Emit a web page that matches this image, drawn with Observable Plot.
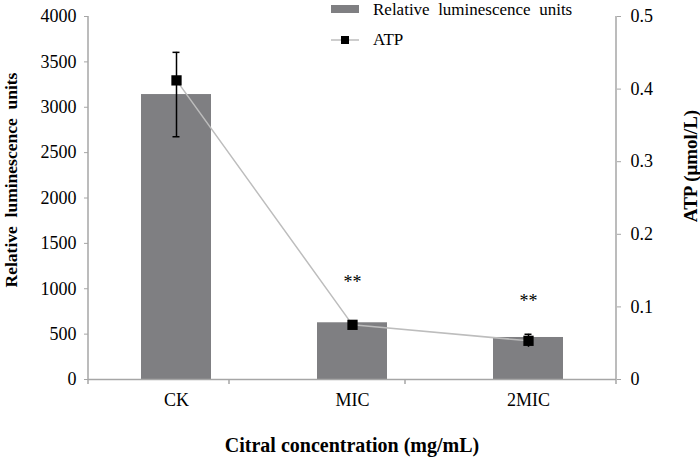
<!DOCTYPE html>
<html><head><meta charset="utf-8">
<script src="https://cdn.jsdelivr.net/npm/d3@7"></script>
<script src="https://cdn.jsdelivr.net/npm/@observablehq/plot@0.6"></script>
<style>
body{margin:0;background:#fff;}
#chart svg, #chart svg text{font-family:"Liberation Serif","Times New Roman",serif !important;}
</style>
</head><body><div id="chart"></div>
<script>
const categories = ["CK", "MIC", "2MIC"];
const rlu = [3140, 625, 463];
const rluErr = [465, 0, 0];
const atp = [0.412, 0.0753, 0.0533];
const atpErr = [0, 0, 0.009];
const stars = ["", "**", "**"];
const starRLU = [null, 1070, 860];
const rluTicks = [0, 500, 1000, 1500, 2000, 2500, 3000, 3500, 4000];
const atpTicks = [0, 0.1, 0.2, 0.3, 0.4, 0.5];
const k = 4000 / 0.5;

const data = categories.map((c, i) => ({
  c, rlu: rlu[i], rluErr: rluErr[i], atp: atp[i] * k, atpErr: atpErr[i] * k,
  star: stars[i], starY: starRLU[i]
}));

const W = 700, H = 459, mL = 88, mR = 84, mT = 16, mB = 80;
const axisColor = "#a6a6a6";
const serif = "'Liberation Serif', 'Times New Roman', serif";

const plot = Plot.plot({
  width: W, height: H,
  marginLeft: mL, marginRight: mR, marginTop: mT, marginBottom: mB,
  style: {fontFamily: serif, fontSize: "18px", color: "#000", background: "#fff"},
  x: {domain: categories, paddingInner: 0.6, paddingOuter: 0.3, label: null},
  y: {domain: [0, 4000], label: null},
  marks: [
    Plot.barY(data, {x: "c", y: "rlu", fill: "#7f7f82"}),
    Plot.ruleX(data.filter(d => d.rluErr > 0), {x: "c", y1: d => d.rlu - d.rluErr, y2: d => d.rlu + d.rluErr, stroke: "#000", strokeWidth: 1.5}),
    Plot.tickY(data.filter(d => d.rluErr > 0), {x: "c", y: d => d.rlu + d.rluErr, stroke: "#000", strokeWidth: 1.5, insetLeft: 31.5, insetRight: 31.5}),
    Plot.tickY(data.filter(d => d.rluErr > 0), {x: "c", y: d => d.rlu - d.rluErr, stroke: "#000", strokeWidth: 1.5, insetLeft: 31.5, insetRight: 31.5}),
    Plot.line(data, {x: "c", y: "atp", stroke: "#bdbdbd", strokeWidth: 1.5}),
    Plot.ruleX(data.filter(d => d.atpErr > 0), {x: "c", y1: d => d.atp - d.atpErr, y2: d => d.atp + d.atpErr, stroke: "#000", strokeWidth: 1.5}),
    Plot.tickY(data.filter(d => d.atpErr > 0), {x: "c", y: d => d.atp + d.atpErr, stroke: "#000", strokeWidth: 1.5, insetLeft: 31.5, insetRight: 31.5}),
    Plot.dot(data, {x: "c", y: "atp", symbol: "square", r: 5.8, fill: "#000", stroke: "none"}),
    Plot.text(data.filter(d => d.star), {x: "c", y: "starY", text: "star", fontSize: 18, fill: "#000"}),
    Plot.ruleY([0], {stroke: axisColor, strokeWidth: 1.5}),
    Plot.axisY({anchor: "left", ticks: rluTicks, tickSize: 4, tickPadding: 8, stroke: axisColor, fontSize: 18, label: null, tickFormat: d => String(d)}),
    Plot.axisY({anchor: "right", ticks: atpTicks.map(t => t * k), tickSize: 4, tickPadding: 10, stroke: axisColor, fontSize: 18, label: null, tickFormat: d => String(+(d / k).toFixed(1))}),
    Plot.axisX({tickSize: 0, tickPadding: 14, fontSize: 18, label: null})
  ]
});

const svg = d3.select(plot);
svg.attr("font-family", serif).style("font-family", serif);
const x = plot.scale("x");
const y0 = H - mB;
// axis lines
svg.append("line").attr("x1", mL).attr("x2", mL).attr("y1", mT).attr("y2", y0).attr("stroke", axisColor).attr("stroke-width", 1.5);
svg.append("line").attr("x1", W - mR).attr("x2", W - mR).attr("y1", mT).attr("y2", y0).attr("stroke", axisColor).attr("stroke-width", 1.5);
// x category separator ticks
const step = x.step;
categories.slice(1).forEach(c => {
  const xx = x.apply(c) - step / 2;
  svg.append("line").attr("x1", xx).attr("x2", xx).attr("y1", y0).attr("y2", y0 + 5).attr("stroke", axisColor).attr("stroke-width", 1.5);
});
svg.append("line").attr("x1", W - mR).attr("x2", W - mR).attr("y1", y0).attr("y2", y0 + 5).attr("stroke", axisColor).attr("stroke-width", 1.5);
svg.append("line").attr("x1", mL).attr("x2", mL).attr("y1", y0).attr("y2", y0 + 5).attr("stroke", axisColor).attr("stroke-width", 1.5);

// axis titles
svg.append("text").attr("transform", `translate(17,180) rotate(-90)`).attr("text-anchor", "middle")
  .attr("font-weight", "bold").attr("font-size", 17.5).attr("fill", "#000").text("Relative  luminescence  units");
svg.append("text").attr("transform", `translate(697,166) rotate(-90)`).attr("text-anchor", "middle")
  .attr("font-weight", "bold").attr("font-size", 19).attr("fill", "#000").text("ATP (μmol/L)");
svg.append("text").attr("x", 352).attr("y", 452).attr("text-anchor", "middle")
  .attr("font-weight", "bold").attr("font-size", 20).attr("fill", "#000").text("Citral concentration (mg/mL)");

// legend
const lg = svg.append("g").attr("text-anchor", "start");
lg.append("rect").attr("x", 331).attr("y", 5).attr("width", 28).attr("height", 8).attr("fill", "#7f7f82");
lg.append("text").attr("x", 373).attr("y", 15).attr("font-size", 17).attr("fill", "#000").text("Relative  luminescence  units");
lg.append("line").attr("x1", 331).attr("x2", 359).attr("y1", 40).attr("y2", 40).attr("stroke", "#bdbdbd").attr("stroke-width", 1.5);
lg.append("rect").attr("x", 341).attr("y", 36).attr("width", 8).attr("height", 8).attr("fill", "#000");
lg.append("text").attr("x", 373).attr("y", 45).attr("font-size", 17).attr("fill", "#000").text("ATP");

svg.selectAll("text").attr("font-family", serif);
svg.selectAll("g[aria-label='y-axis tick label'] text, g[aria-label='x-axis tick label'] text").attr("font-size", 18).style("font-size", "18px");

document.getElementById("chart").append(plot);
</script>
</body></html>
